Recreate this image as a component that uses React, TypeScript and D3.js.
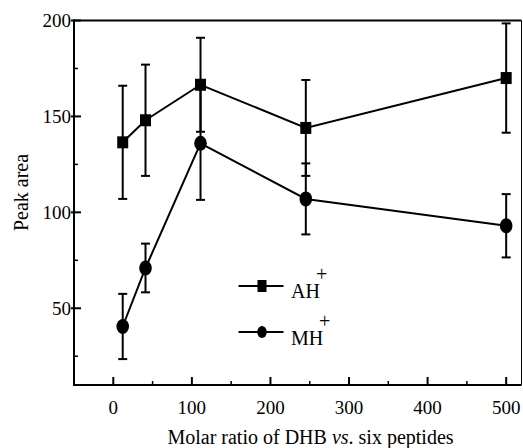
import React from "react";
import * as d3 from "d3";

const ratios = [12, 41, 111, 245, 500];
const ahPeak = [136.5, 148, 166.5, 144, 170];
const ahErr = [29.5, 29, 24.5, 25, 28.5];
const mhPeak = [40.5, 71, 136, 107, 93];
const mhErr = [17, 12.7, 29.5, 18.5, 16.5];
const xTicks = [0, 100, 200, 300, 400, 500];
const xMinor = [50, 150, 250, 350, 450];
const yTicks = [50, 100, 150, 200];
const yMinor = [25, 75, 125, 175];

const W = 523;
const H = 448;
const left = 74;
const right = 521.5;
const top = 20.5;
const bottom = 385;
const font = "Liberation Serif, serif";

const App = () => {
  const x = d3.scaleLinear().domain([-50, 519.5]).range([left, right]);
  const y = d3.scaleLinear().domain([10, 200]).range([bottom, top]);

  const line = d3
    .line<number>()
    .x((_, i) => x(ratios[i]))
    .y((d) => y(d));

  const errorBars = (vals: number[], errs: number[]) =>
    vals.map((v, i) => {
      const cx = x(ratios[i]);
      const y1 = y(v + errs[i]);
      const y2 = y(v - errs[i]);
      return (
        <g key={i} stroke="#000" strokeWidth={2}>
          <line x1={cx} x2={cx} y1={y1} y2={y2} />
          <line x1={cx - 4.5} x2={cx + 4.5} y1={y1} y2={y1} />
          <line x1={cx - 4.5} x2={cx + 4.5} y1={y2} y2={y2} />
        </g>
      );
    });

  return (
    <svg
      width={W}
      height={H}
      style={{ position: "absolute", left: 0, top: 0, background: "#fff" }}
    >
      {/* frame */}
      <line x1={left} x2={right} y1={top} y2={top} stroke="#000" strokeWidth={2} />
      <line x1={right} x2={right} y1={top} y2={bottom} stroke="#000" strokeWidth={1} />
      <line x1={left} x2={left} y1={top - 1} y2={bottom + 1} stroke="#000" strokeWidth={2} />
      <line x1={left - 1} x2={right} y1={bottom} y2={bottom} stroke="#000" strokeWidth={2} />

      {/* y axis ticks */}
      {yTicks.map((t) => (
        <g key={t}>
          <line x1={left - 3} x2={left + 7} y1={y(t)} y2={y(t)} stroke="#000" strokeWidth={2} />
          <text
            x={left - 3}
            y={y(t) + 6.5}
            textAnchor="end"
            fontFamily={font}
            fontSize={19}
          >
            {t}
          </text>
        </g>
      ))}
      {yMinor.map((t) => (
        <line key={t} x1={left} x2={left + 4} y1={y(t)} y2={y(t)} stroke="#000" strokeWidth={1.5} />
      ))}

      {/* x axis ticks */}
      {xTicks.map((t) => (
        <g key={t}>
          <line x1={x(t)} x2={x(t)} y1={bottom} y2={bottom - 8} stroke="#000" strokeWidth={2} />
          <text
            x={x(t)}
            y={bottom + 29}
            textAnchor="middle"
            fontFamily={font}
            fontSize={19}
          >
            {t}
          </text>
        </g>
      ))}
      {xMinor.map((t) => (
        <line key={t} x1={x(t)} x2={x(t)} y1={bottom} y2={bottom - 4} stroke="#000" strokeWidth={1.5} />
      ))}

      {/* axis titles */}
      <text
        x={310.5}
        y={444}
        textAnchor="middle"
        fontFamily={font}
        fontSize={20}
      >
        Molar ratio of DHB <tspan fontStyle="italic">vs</tspan>. six peptides
      </text>
      <text
        transform={`translate(28,${192.5}) rotate(-90)`}
        textAnchor="middle"
        fontFamily={font}
        fontSize={20}
      >
        Peak area
      </text>

      {/* series */}
      <path d={line(ahPeak) ?? ""} fill="none" stroke="#000" strokeWidth={2} />
      <path d={line(mhPeak) ?? ""} fill="none" stroke="#000" strokeWidth={2} />
      {errorBars(ahPeak, ahErr)}
      {errorBars(mhPeak, mhErr)}
      {ahPeak.map((v, i) => (
        <rect key={i} x={x(ratios[i]) - 5.5} y={y(v) - 6} width={11} height={12} fill="#000" />
      ))}
      {mhPeak.map((v, i) => (
        <ellipse key={i} cx={x(ratios[i])} cy={y(v)} rx={6.3} ry={7.5} fill="#000" />
      ))}

      {/* legend */}
      <g>
        <line x1={238.5} x2={283.5} y1={286} y2={286} stroke="#000" strokeWidth={2} />
        <rect x={257.5} y={280} width={9} height={12} fill="#000" />
        <text x={291} y={298} fontFamily={font} fontSize={20}>AH</text>
        <text x={316} y={281} fontFamily={font} fontSize={20}>+</text>
        <line x1={238.5} x2={283.5} y1={332} y2={332} stroke="#000" strokeWidth={2} />
        <ellipse cx={262} cy={332} rx={4.8} ry={6} fill="#000" />
        <text x={291} y={345} fontFamily={font} fontSize={20}>MH</text>
        <text x={319} y={328} fontFamily={font} fontSize={20}>+</text>
      </g>
    </svg>
  );
};

export default App;
